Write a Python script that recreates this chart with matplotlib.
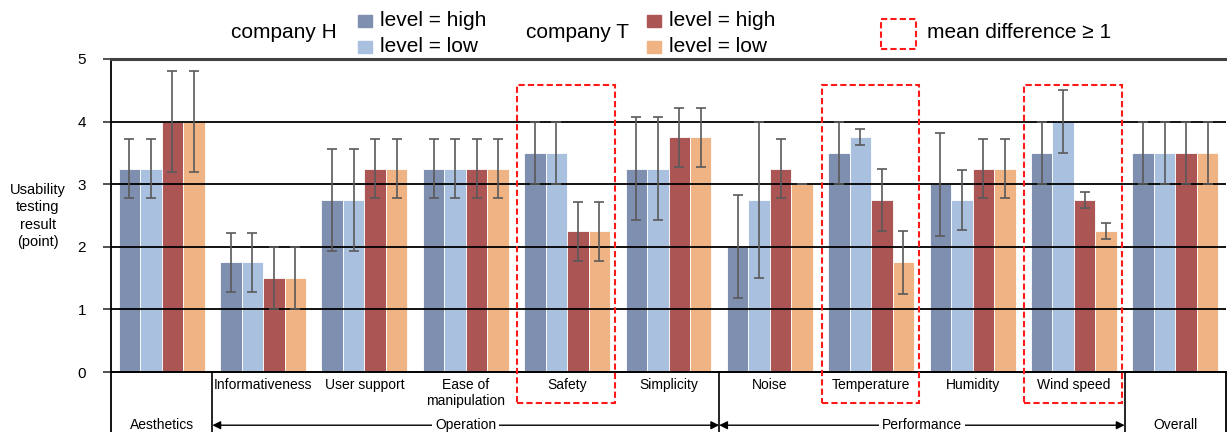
import numpy as np
import matplotlib.pyplot as plt
from matplotlib.patches import Rectangle

plt.rcParams['font.family'] = ['Liberation Sans', 'DejaVu Sans']

# Data
categories = ['Aesthetics', 'Informativeness', 'User support', 'Ease of\nmanipulation',
              'Safety', 'Simplicity', 'Noise', 'Temperature', 'Humidity', 'Wind speed', 'Overall']

h_high = [3.25, 1.75, 2.75, 3.25, 3.5, 3.25, 2.0, 3.5, 3.0, 3.5, 3.5]
h_low = [3.25, 1.75, 2.75, 3.25, 3.5, 3.25, 2.75, 3.75, 2.75, 4.0, 3.5]
t_high = [4.0, 1.5, 3.25, 3.25, 2.25, 3.75, 3.25, 2.75, 3.25, 2.75, 3.5]
t_low = [4.0, 1.5, 3.25, 3.25, 2.25, 3.75, 3.0, 1.75, 3.25, 2.25, 3.5]

h_high_err = [0.47, 0.47, 0.82, 0.47, 0.5, 0.82, 0.82, 0.5, 0.82, 0.5, 0.5]
h_low_err = [0.47, 0.47, 0.82, 0.47, 0.5, 0.82, 1.25, 0.125, 0.48, 0.5, 0.5]
t_high_err = [0.81, 0.5, 0.47, 0.47, 0.47, 0.47, 0.47, 0.5, 0.47, 0.125, 0.5]
t_low_err = [0.81, 0.5, 0.47, 0.47, 0.47, 0.47, 0.0, 0.5, 0.47, 0.125, 0.5]

highlighted = [4, 7, 9]  # mean difference >= 1
group_spans = [('Operation', 0.5, 5.5), ('Performance', 5.5, 9.5)]
dividers = [0.5, 5.5, 9.5]
outer_labels = [0, 10]  # categories labelled on the bottom row

colors = ['#7f8fb0', '#a9c1df', '#ab5555', '#f0b383']

W, H = 1227, 432
fig = plt.figure(figsize=(W / 100, H / 100), dpi=100)
ax = fig.add_axes([111 / W, 60 / H, (1226 - 111) / W, 313 / H])

x = np.arange(len(categories))
w = 0.212
series = [(h_high, h_high_err), (h_low, h_low_err), (t_high, t_high_err), (t_low, t_low_err)]
for i, (vals, errs) in enumerate(series):
    off = (i - 1.5) * w
    ax.bar(x + off, vals, w, color=colors[i], edgecolor='white', linewidth=0.6, zorder=2)
    ax.errorbar(x + off, vals, yerr=errs, fmt='none', ecolor='#5a5a5a',
                elinewidth=1.2, capsize=3.5, capthick=1.2, zorder=4)

ax.set_xlim(-0.5, 10.5)
ax.set_ylim(0, 5)
for s in ax.spines.values():
    s.set_visible(False)
ax.set_xticks([])
ax.set_yticks(range(6))
ax.tick_params(axis='y', length=6, width=1.2, color='#333333', labelsize=11, pad=12)

# horizontal grid lines on top of bars
for yv in range(1, 5):
    ax.axhline(yv, color='black', lw=1.3, zorder=3)
ax.axhline(5, color='#404040', lw=2.2, zorder=3, clip_on=False)
ax.axhline(0, color='black', lw=1.4, zorder=3, clip_on=False)

# category table below the axis
bottom = -0.97
ax.plot([-0.5, -0.5], [5, bottom], color='black', lw=1.3, clip_on=False)
ax.plot([10.5, 10.5], [0, bottom], color='black', lw=1.3, clip_on=False)
for d in dividers:
    ax.plot([d, d], [0, bottom], color='black', lw=1.2, clip_on=False)

for i, lab in enumerate(categories):
    if i in outer_labels:
        ax.text(i, -0.85, lab, ha='center', va='center', fontsize=10)
    else:
        ax.text(i, -0.1, lab, ha='center', va='top', fontsize=10, linespacing=1.15)

for name, x0, x1 in group_spans:
    ax.annotate('', xy=(x0, -0.85), xytext=(x1, -0.85),
                arrowprops=dict(arrowstyle='<|-|>', color='black', lw=1,
                                shrinkA=0, shrinkB=0, mutation_scale=12),
                annotation_clip=False)
    ax.text((x0 + x1) / 2, -0.85, name, ha='center', va='center', fontsize=10,
            bbox=dict(facecolor='white', edgecolor='none', pad=2))

for i in highlighted:
    ax.add_patch(Rectangle((i - 0.5 + 0.01, -0.5), 0.96, 5.08, fill=False,
                           edgecolor='#ff1a1a', ls=(0, (3, 1.5)), lw=1.5,
                           clip_on=False, zorder=5))

# y label
fig.text(38 / W, 1 - 216 / H, 'Usability\ntesting\nresult\n(point)', ha='center',
         va='center', fontsize=10.5, linespacing=1.3)

# legend drawn by hand
def fx(px):
    return px / W

def fy(py):
    return 1 - py / H

fig.text(fx(284), fy(33), 'company H', ha='center', va='center', fontsize=15)
fig.text(fx(578), fy(33), 'company T', ha='center', va='center', fontsize=15)
for px, (c1, c2) in [(358, (colors[0], colors[1])), (647, (colors[2], colors[3]))]:
    fig.patches.append(Rectangle((fx(px), fy(27)), 14 / W, 12 / H, color=c1,
                                 transform=fig.transFigure, figure=fig))
    fig.patches.append(Rectangle((fx(px), fy(53)), 14 / W, 12 / H, color=c2,
                                 transform=fig.transFigure, figure=fig))
    fig.text(fx(px + 22), fy(21), 'level = high', ha='left', va='center', fontsize=15)
    fig.text(fx(px + 22), fy(47), 'level = low', ha='left', va='center', fontsize=15)

fig.patches.append(Rectangle((fx(881), fy(49)), 35 / W, 30 / H, fill=False,
                             edgecolor='#ff1a1a', ls=(0, (3, 1.5)), lw=1.5,
                             transform=fig.transFigure, figure=fig))
fig.text(fx(927), fy(33), 'mean difference ≥ 1', ha='left', va='center', fontsize=15)

fig.savefig('out.png', dpi=100)
